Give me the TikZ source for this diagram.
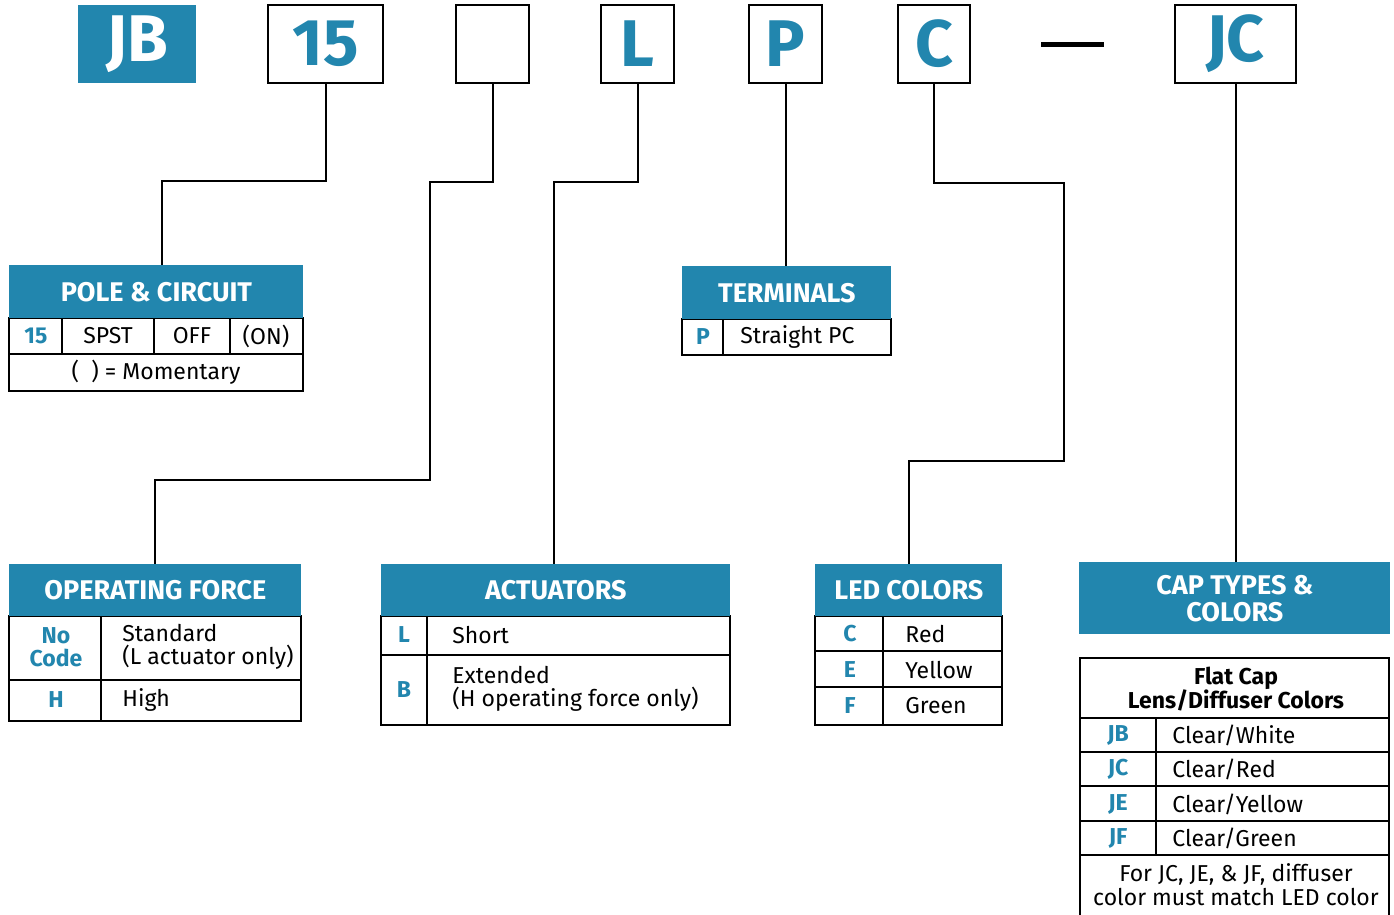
\documentclass[tikz,border=0pt]{standalone}
\usepackage{fontspec}
\setmainfont{Fira Sans}
\usetikzlibrary{positioning,calc}
\definecolor{pnblue}{RGB}{34,134,174}

\begin{document}
\begin{tikzpicture}[x=0.5pt, y=-0.5pt,
    topbox/.style={draw, line width=1.3pt, minimum height=39pt, inner sep=0pt,
      text=pnblue, font=\fontsize{33}{33}\selectfont\bfseries},
    header/.style={fill=pnblue, text=white, inner sep=0pt, anchor=north west,
      font=\fontsize{13.5}{13.5}\selectfont\bfseries, align=center},
    frame/.style={line width=1pt},
    rule/.style={line width=0.7pt},
    wire/.style={line width=1pt},
    code/.style={text=pnblue, font=\fontsize{11.5}{11.5}\selectfont\bfseries, align=center, inner sep=0pt},
    entry/.style={font=\fontsize{11.5}{11.5}\selectfont, align=left, anchor=west, inner sep=0pt},
    centry/.style={font=\fontsize{11.5}{11.5}\selectfont, align=center, inner sep=0pt}]
  \useasboundingbox (0,0) rectangle (1394,915);

  % part number boxes
  \node[topbox, draw=none, fill=pnblue, text=white, minimum width=59pt] (jb) at (137,44) {JB};
  \node[topbox, minimum width=57.5pt] (b15) at (325.5,44) {15};
  \node[topbox, minimum width=36.5pt] (bopt) at (492.5,44) {};
  \node[topbox, minimum width=36.5pt] (bL) at (637.5,44) {L};
  \node[topbox, minimum width=36.5pt] (bP) at (785.5,44) {P};
  \node[topbox, minimum width=36pt] (bC) at (934,44) {C};
  \draw[line width=2.5pt] (1041,45) -- (1104,45);
  \node[topbox, minimum width=60.5pt] (bJC) at (1235.5,44) {JC};

  % pole & circuit
  \draw[frame] (9,318) rectangle (303,391);
  \draw[rule] (9,354) -- (303,354);
  \draw[rule] (62,318) -- (62,354) (154,318) -- (154,354) (230,318) -- (230,354);
  \node[header, minimum width=147pt, minimum height=26.5pt] (pole) at (9,265) {POLE \& CIRCUIT};
  \node[code] (p15) at (36,336) {15};
  \node[centry] (pspst) at (108,336) {SPST};
  \node[centry] (poff) at (192,336) {OFF};
  \node[centry] (pon) at (266,336) {(ON)};
  \node[centry] (pmom) at (156,372) {(\ \ ) = Momentary};

  % terminals
  \draw[frame] (682,319) rectangle (891,355);
  \draw[rule] (723,319) -- (723,355);
  \node[header, minimum width=104.5pt, minimum height=26.5pt] (term) at (682,266) {TERMINALS};
  \node[code] (tP) at (703,337) {P};
  \node[entry] (tpc) at (740,337) {Straight PC};

  % operating force
  \draw[frame] (9,616) rectangle (301,721);
  \draw[rule] (9,680) -- (301,680) (101,616) -- (101,721);
  \node[header, minimum width=146pt, minimum height=26pt] (opforce) at (9,564) {OPERATING FORCE};
  \node[code] (fno) at (56,647) {No\\Code};
  \node[entry] (fstd) at (122,647) {Standard\\(L actuator only)};
  \node[code] (fH) at (56,700) {H};
  \node[entry] (fhigh) at (122,700) {High};

  % actuators
  \draw[frame] (381,616) rectangle (730,725);
  \draw[rule] (381,655) -- (730,655) (427,616) -- (427,725);
  \node[header, minimum width=174.5pt, minimum height=26pt] (act) at (381,564) {ACTUATORS};
  \node[code] (aL) at (404,635) {L};
  \node[entry] (ashort) at (452,635) {Short};
  \node[code] (aB) at (404,690) {B};
  \node[entry] (aext) at (452,689) {Extended\\(H operating force only)};

  % led colors
  \draw[frame] (815,616) rectangle (1002,725);
  \draw[rule] (815,651) -- (1002,651) (815,687) -- (1002,687) (883,616) -- (883,725);
  \node[header, minimum width=93.5pt, minimum height=26pt] (led) at (815,564) {LED COLORS};
  \node[code] (lC) at (850,634) {C};
  \node[entry] (lred) at (905,634) {Red};
  \node[code] (lE) at (850,670) {E};
  \node[entry] (lyel) at (905,670) {Yellow};
  \node[code] (lF) at (850,706) {F};
  \node[entry] (lgrn) at (905,706) {Green};

  % cap types & colors
  \node[header, minimum width=155.5pt, minimum height=36pt] (cap) at (1079,562) {CAP TYPES \&\\COLORS};
  \draw[frame] (1080,915) -- (1080,658) -- (1389,658) -- (1389,915);
  \draw[rule] (1080,718) -- (1389,718) (1080,752) -- (1389,752) (1080,786) -- (1389,786)
    (1080,821) -- (1389,821) (1080,855) -- (1389,855) (1156,718) -- (1156,855);
  \node[centry, font=\fontsize{11.5}{12}\selectfont\bfseries] (ctitle) at (1236,689) {Flat Cap\\Lens/Diffuser Colors};
  \node[code] (cJB) at (1118,735) {JB};
  \node[entry] (cwht) at (1172,735) {Clear/White};
  \node[code] (cJC) at (1118,769) {JC};
  \node[entry] (cred) at (1172,769) {Clear/Red};
  \node[code] (cJE) at (1118,804) {JE};
  \node[entry] (cyel) at (1172,804) {Clear/Yellow};
  \node[code] (cJF) at (1118,838) {JF};
  \node[entry] (cgrn) at (1172,838) {Clear/Green};
  \node[centry, font=\fontsize{11.5}{12}\selectfont] (cnote) at (1236,885) {For JC, JE, \& JF, diffuser\\color must match LED color};

  % connectors
  \draw[wire] (b15.south) -- ++(0,97) -| ([xshift=3pt]pole.north);
  \draw[wire] (bopt.south) -- ++(0,98) -- ++(-63,0) -- ++(0,298) -| (opforce.north);
  \draw[wire] (bL.south) -- ++(0,98) -| ([xshift=-1pt]act.north);
  \draw[wire] (bP.south) -- (bP.south |- term.north);
  \draw[wire] (bC.south) -- ++(0,99) -- ++(130,0) -- ++(0,278) -| (led.north);
  \draw[wire] (bJC.south) -- (bJC.south |- cap.north);
\end{tikzpicture}
\end{document}
